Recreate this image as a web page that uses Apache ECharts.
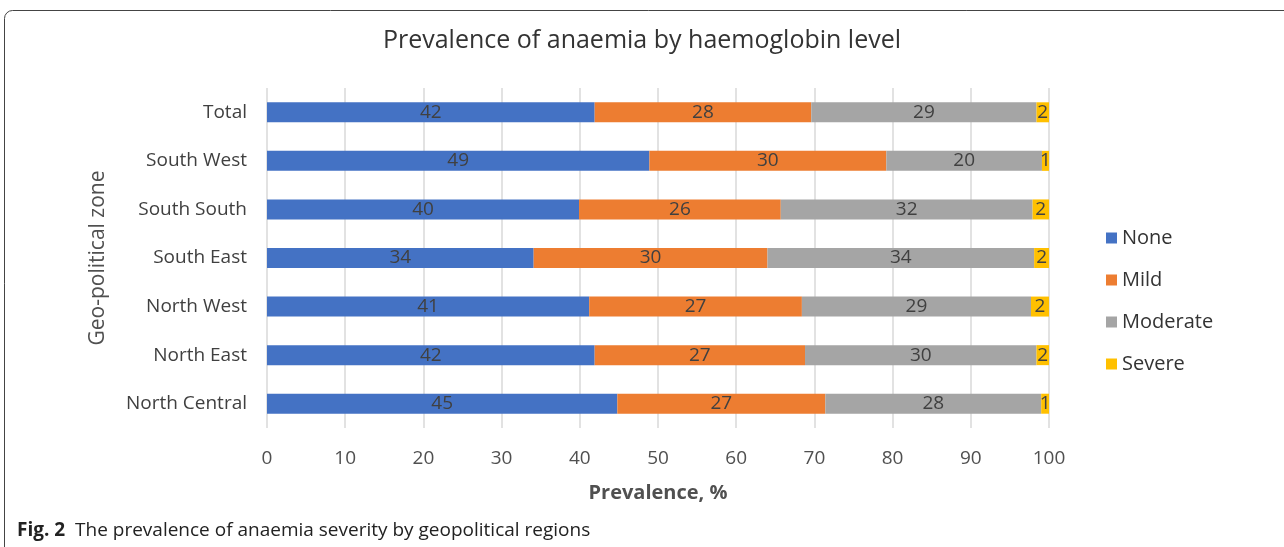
<!DOCTYPE html>
<html>
<head>
<meta charset="utf-8">
<script src="https://cdn.jsdelivr.net/npm/echarts@6/dist/echarts.min.js"></script>
<style>
  html, body { margin: 0; padding: 0; background: #fff; }
  #chart { width: 1284px; height: 547px; }
</style>
</head>
<body>
<div id="chart"></div>
<script>
// 地区（自下而上）
const zones = ['North Central', 'North East', 'North West', 'South East', 'South South', 'South West', 'Total'];

// 各严重程度占比（%）
const noneVals     = [44.8, 41.9, 41.2, 34.1, 39.9, 48.9, 41.9];
const mildVals     = [26.6, 26.9, 27.2, 29.9, 25.8, 30.3, 27.7];
const moderateVals = [27.6, 29.6, 29.3, 34.1, 32.2, 19.9, 28.8];
const severeVals   = [1.0, 1.6, 2.3, 1.9, 2.1, 0.9, 1.6];

const xTicks = [0, 10, 20, 30, 40, 50, 60, 70, 80, 90, 100];

const chart = echarts.init(document.getElementById('chart'));

const FONT = '"Open Sans", "Noto Sans", sans-serif';

function makeSeries(name, data, color) {
  return {
    name: name,
    type: 'bar',
    stack: 'all',
    barWidth: 20,
    data: data,
    itemStyle: { color: color },
    label: {
      show: true,
      position: 'inside',
      color: '#404040',
      fontSize: 19,
      fontFamily: FONT,
      formatter: p => Math.round(p.value)
    }
  };
}

const option = {
  animation: false,
  textStyle: { fontFamily: FONT },
  title: [
    {
      text: 'Prevalence of anaemia by haemoglobin level',
      left: 'center',
      top: 23,
      textStyle: { fontSize: 25, fontWeight: 'normal', color: '#333', fontFamily: FONT }
    },
    {
      text: '{b|Fig. 2}  The prevalence of anaemia severity by geopolitical regions',
      left: 12,
      top: 516,
      textStyle: {
        fontSize: 19, fontWeight: 'normal', color: '#222', fontFamily: FONT,
        rich: { b: { fontSize: 19, fontWeight: 'bold', color: '#222', fontFamily: FONT } }
      }
    }
  ],
  legend: {
    orient: 'vertical',
    left: 1101,
    top: 223,
    itemWidth: 11,
    itemHeight: 11,
    itemGap: 22,
    icon: 'rect',
    textStyle: { fontSize: 20, lineHeight: 20, color: '#333', fontFamily: FONT },
    data: ['None', 'Mild', 'Moderate', 'Severe']
  },
  grid: { left: 267, right: 235, top: 88, bottom: 119, containLabel: false },
  xAxis: {
    type: 'value',
    min: 0,
    max: 100,
    interval: 10,
    name: 'Prevalence, %',
    nameLocation: 'middle',
    nameGap: 55,
    nameTextStyle: { fontSize: 20, fontWeight: 'bold', color: '#505050', fontFamily: FONT },
    axisLine: { show: false },
    axisTick: { show: false },
    axisLabel: {
      fontSize: 19, color: '#505050', margin: 21, fontFamily: FONT,
      formatter: v => xTicks.includes(v) ? String(v) : ''
    },
    splitLine: { show: true, lineStyle: { color: '#d9d9d9', width: 1.5 } }
  },
  yAxis: {
    type: 'category',
    data: zones,
    name: 'Geo-political zone',
    nameLocation: 'middle',
    nameGap: 158,
    nameRotate: 90,
    nameTextStyle: { fontSize: 21, color: '#505050', fontFamily: FONT },
    axisLine: { show: false },
    axisTick: { show: false },
    axisLabel: { fontSize: 19, color: '#404040', margin: 20, fontFamily: FONT }
  },
  series: [
    makeSeries('None', noneVals, '#4472C4'),
    makeSeries('Mild', mildVals, '#ED7D31'),
    makeSeries('Moderate', moderateVals, '#A5A5A5'),
    makeSeries('Severe', severeVals, '#FFC000')
  ],
  graphic: [
    {
      type: 'rect',
      silent: true,
      shape: { x: 4.5, y: 10.5, width: 1300, height: 560, r: 8 },
      style: { fill: 'none', stroke: '#444', lineWidth: 1 }
    }
  ]
};

chart.setOption(option);
window.addEventListener('resize', () => chart.resize());
</script>
</body>
</html>
